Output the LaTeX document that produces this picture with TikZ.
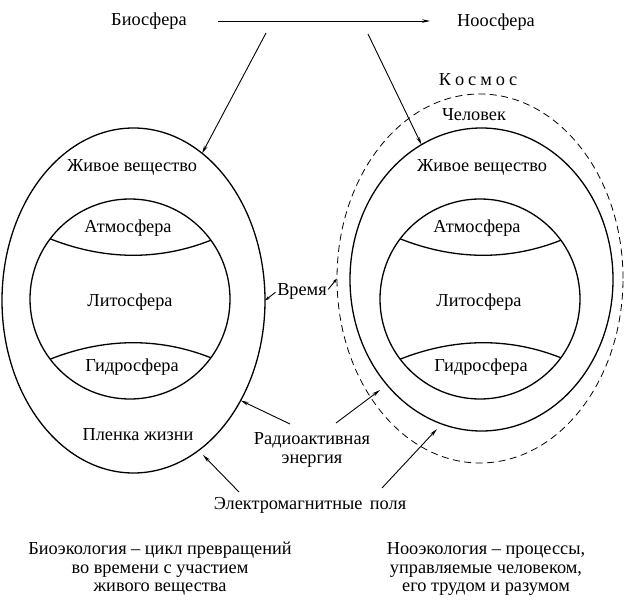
\documentclass[tikz,border=0pt]{standalone}
\usepackage{fontspec}
\setmainfont{Liberation Serif}
\usetikzlibrary{arrows.meta,shapes.geometric}
\begin{document}
\begin{tikzpicture}[x=1pt,y=-1pt,
  lbl/.style={inner sep=0pt, font=\fontsize{18.3}{18.6}\selectfont, align=center},
  oval/.style={draw, ellipse, line width=1.3pt, inner sep=0pt, outer sep=0pt},
  dashoval/.style={draw, ellipse, line width=0.8pt, dash pattern=on 7pt off 4.5pt, inner sep=0pt, outer sep=0pt},
  globe/.style={draw, circle, line width=1.3pt, minimum size=200pt, inner sep=0pt, outer sep=0pt},
  chord/.style={line width=1.3pt},
  arr/.style={-{Stealth[length=8pt,width=3.6pt]}, line width=0.9pt},
  tinyarr/.style={-{Stealth[length=5pt,width=3pt]}, line width=0.9pt}]
\useasboundingbox (0,0) rectangle (624,607);

% shapes
\node[oval, minimum width=263pt, minimum height=345pt] (lell) at (133.5,300.5) {};
\node[oval, minimum width=263pt, minimum height=303pt] (rell) at (481.5,279.5) {};
\node[dashoval, minimum width=286pt, minimum height=369pt] (dell) at (480,278.5) {};
\node[globe] (lg) at (130,299) {};
\node[globe] (rg) at (480,299) {};

\draw[chord] (lg.143.13) .. controls +(53,21) and +(-53,21) .. (lg.36.87);
\draw[chord] (lg.-143.13) .. controls +(53,-21) and +(-53,-21) .. (lg.-36.87);
\draw[chord] (rg.143.13) .. controls +(53,21) and +(-53,21) .. (rg.36.87);
\draw[chord] (rg.-143.13) .. controls +(53,-21) and +(-53,-21) .. (rg.-36.87);

% texts
\node[lbl] (bio) at (149,21) {Биосфера};
\node[lbl] (noo) at (496,22) {Ноосфера};
\node[lbl] (kos) at (478,80) {К\kern4pt о\kern4pt с\kern4pt м\kern4pt о\kern4pt с};
\node[lbl] (chel) at (474,115) {Человек};
\node[lbl] (lzhv) at (132,167) {Живое вещество};
\node[lbl] (latm) at (128,228) {Атмосфера};
\node[lbl] (llit) at (130,302) {Литосфера};
\node[lbl] (lgid) at (132,367) {Гидросфера};
\node[lbl] (lplen) at (138,435) {Пленка жизни};
\node[lbl] (rzhv) at (482,167) {Живое вещество};
\node[lbl] (ratm) at (477,228) {Атмосфера};
\node[lbl] (rlit) at (479,302) {Литосфера};
\node[lbl] (rgid) at (481,367) {Гидросфера};
\node[lbl] (time) at (302,291) {Время};
\node[lbl] (radio) at (312,450) {Радиоактивная\\энергия};
\node[lbl] (em) at (310,505) {Электромагнитные\hspace{0.4em}поля};
\node[lbl] (beco) at (160,569) {Биоэкология -- цикл превращений\\во времени с участием\\живого вещества};
\node[lbl] (neco) at (486,569) {Нооэкология -- процессы,\\управляемые человеком,\\его трудом и разумом};

% connector end points
\coordinate (h1) at (218,21);
\coordinate (h2) at (430,21);
\coordinate (d1) at (266,33);
\coordinate (d2) at (368,34);
\coordinate (r1) at (290,424);
\coordinate (r2) at (336,423);
\coordinate (r2t) at (380,390);
\coordinate (e1) at (239,492);
\coordinate (e1t) at (203,455);
\coordinate (e2) at (382,488);
\coordinate (e2t) at (437,429);

\draw[arr] (h1) -- (h2);
\draw[arr] (d1) -- (lell.65);
\draw[arr] (d2) -- (rell.114.4);
\draw[arr] (r1) -- (lell.-43);
\draw[arr] (r2) -- (r2t);
\draw[arr] (e1) -- (e1t);
\draw[arr] (e2) -- (e2t);
\draw[tinyarr, shorten <=2pt] (time.west) -- (lell.east);
\draw[tinyarr, shorten <=2pt] (time.east) -- (dell.west);
\end{tikzpicture}
\end{document}
